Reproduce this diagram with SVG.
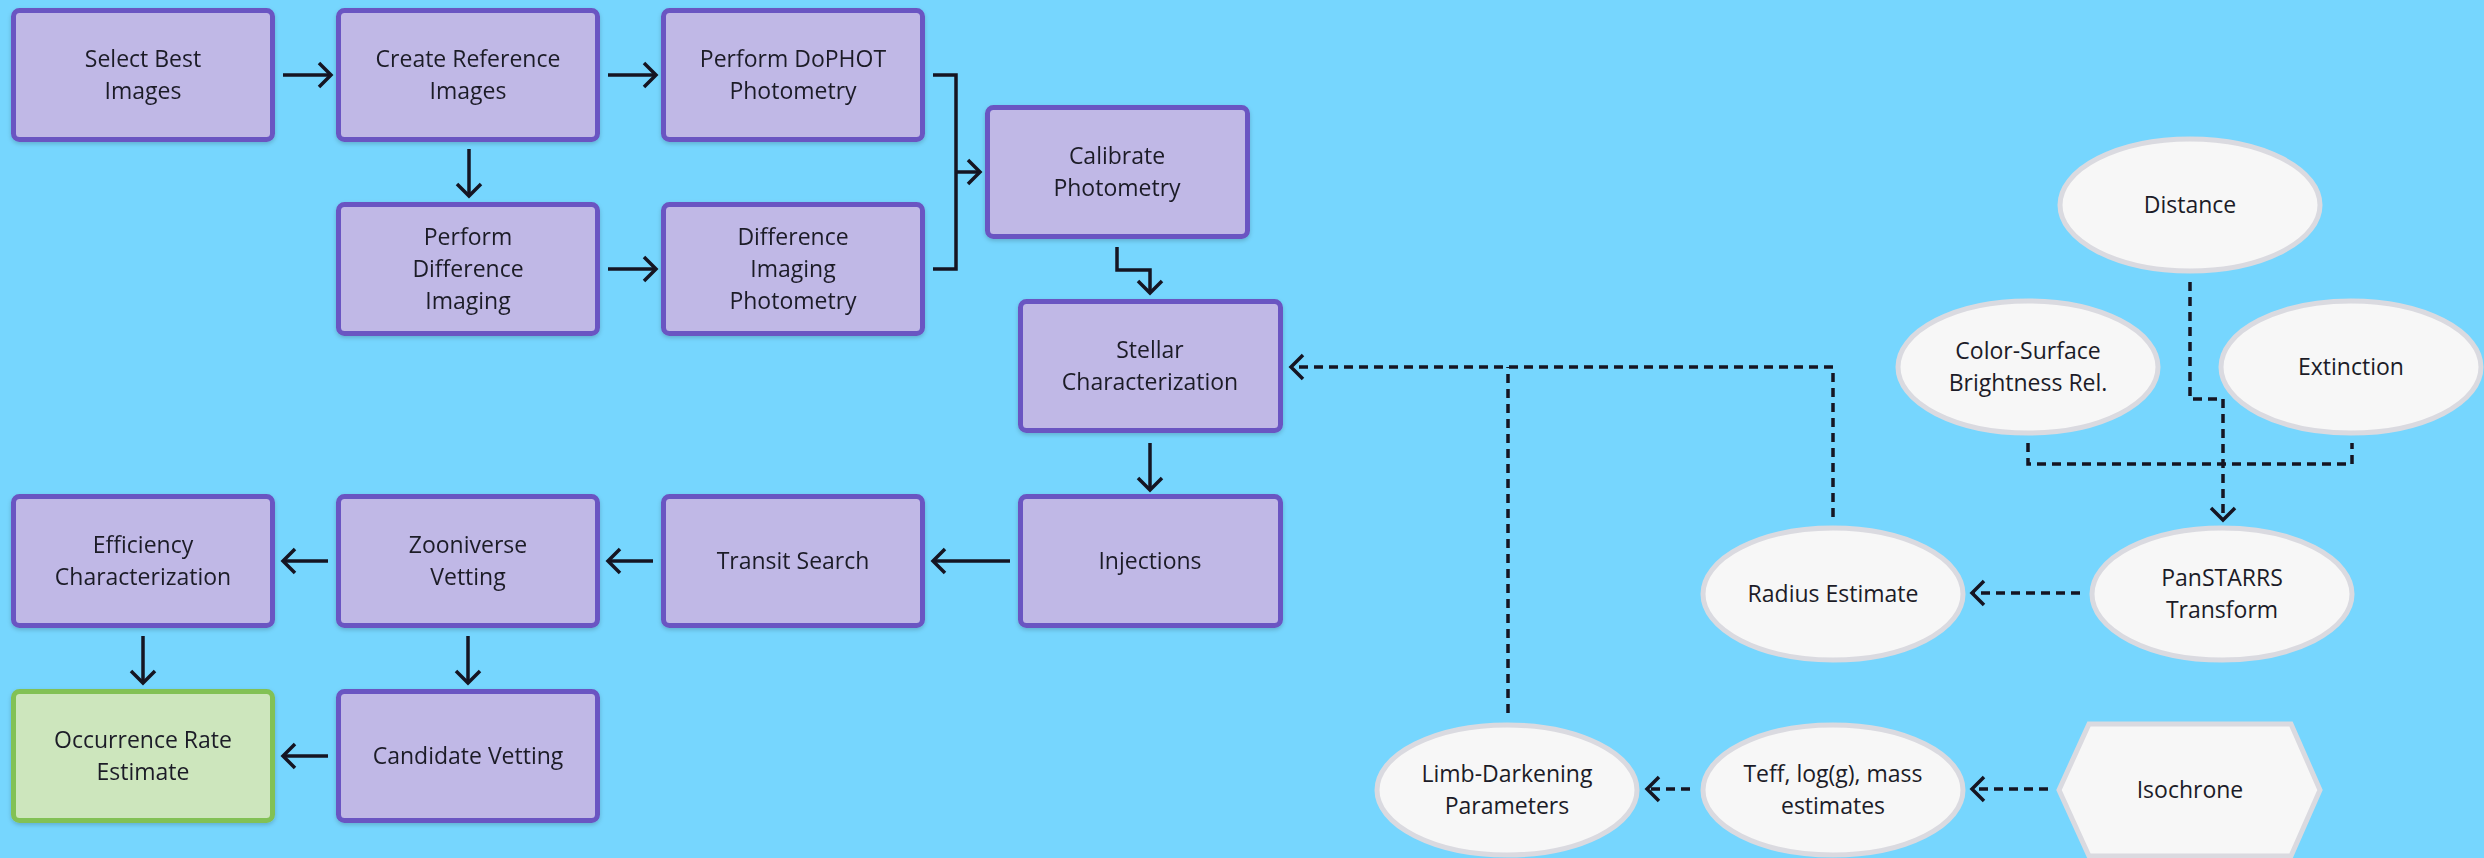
<svg xmlns="http://www.w3.org/2000/svg" width="2484" height="858" viewBox="0 0 2484 858">
<style>
.box{fill:#c0b8e6;stroke:#6b54c2;stroke-width:5}
.fin{fill:#cde6bd;stroke:#82c155;stroke-width:5}
.ell{fill:#f7f7f7;stroke:#dadae0;stroke-width:5}
text{font-family:"Open Sans","Liberation Sans",sans-serif;font-size:23px;fill:#1c1c28;text-anchor:middle}
.c{fill:none;stroke:#151522;stroke-width:3.5}
.d{stroke-dasharray:9 6}
</style>
<defs>
<filter id="sh" x="-10%" y="-10%" width="120%" height="130%"><feDropShadow dx="0" dy="2" stdDeviation="2" flood-color="#000" flood-opacity="0.18"/></filter>
<marker id="ah" markerUnits="userSpaceOnUse" markerWidth="20" markerHeight="30" viewBox="0 0 20 30" refX="16" refY="15" orient="auto"><path d="M4,3 L16,15 L4,27" fill="none" stroke="#151522" stroke-width="3.5" stroke-dasharray="none"/></marker>
</defs>
<rect width="2484" height="858" fill="#76d6fe"/>
<g id="connectors">
<path class="c" d="M283,75 H331" marker-end="url(#ah)"/>
<path class="c" d="M608,75 H656" marker-end="url(#ah)"/>
<path class="c" d="M469,149 V196" marker-end="url(#ah)"/>
<path class="c" d="M608,269 H656" marker-end="url(#ah)"/>
<path class="c" d="M933,75 H956 V269 H933"/>
<path class="c" d="M956,172 H980" marker-end="url(#ah)"/>
<path class="c" d="M1117,247 V270 H1150 V293" marker-end="url(#ah)"/>
<path class="c" d="M1150,443 V490" marker-end="url(#ah)"/>
<path class="c" d="M1010,561 H933" marker-end="url(#ah)"/>
<path class="c" d="M653,561 H608" marker-end="url(#ah)"/>
<path class="c" d="M328,561 H283" marker-end="url(#ah)"/>
<path class="c" d="M143,636 V683" marker-end="url(#ah)"/>
<path class="c" d="M468,636 V683" marker-end="url(#ah)"/>
<path class="c" d="M328,756 H283" marker-end="url(#ah)"/>
<path class="c d" d="M2190,282 V399 H2223 V520" marker-end="url(#ah)"/>
<path class="c d" d="M2028,443 V464 H2352 V443"/>
<path class="c d" d="M2080,593 H1972" marker-end="url(#ah)"/>
<path class="c d" d="M1833,517 V367 H1291" marker-end="url(#ah)"/>
<path class="c d" d="M1508,713 V367"/>
<path class="c d" d="M1690,789 H1647" marker-end="url(#ah)"/>
<path class="c d" d="M2048,789 H1972" marker-end="url(#ah)"/>
</g>
<g id="n-select" filter="url(#sh)"><rect class="box" x="13.5" y="10.5" width="259" height="129" rx="6"/><text x="143" y="67">Select Best</text><text x="143" y="99">Images</text></g>
<g id="n-createref" filter="url(#sh)"><rect class="box" x="338.5" y="10.5" width="259" height="129" rx="6"/><text x="468" y="67">Create Reference</text><text x="468" y="99">Images</text></g>
<g id="n-dophot" filter="url(#sh)"><rect class="box" x="663.5" y="10.5" width="259" height="129" rx="6"/><text x="793" y="67">Perform DoPHOT</text><text x="793" y="99">Photometry</text></g>
<g id="n-perfdiff" filter="url(#sh)"><rect class="box" x="338.5" y="204.5" width="259" height="129" rx="6"/><text x="468" y="245">Perform</text><text x="468" y="277">Difference</text><text x="468" y="309">Imaging</text></g>
<g id="n-diffphot" filter="url(#sh)"><rect class="box" x="663.5" y="204.5" width="259" height="129" rx="6"/><text x="793" y="245">Difference</text><text x="793" y="277">Imaging</text><text x="793" y="309">Photometry</text></g>
<g id="n-calibrate" filter="url(#sh)"><rect class="box" x="987.5" y="107.5" width="260" height="129" rx="6"/><text x="1117" y="164">Calibrate</text><text x="1117" y="196">Photometry</text></g>
<g id="n-stellar" filter="url(#sh)"><rect class="box" x="1020.5" y="301.5" width="260" height="129" rx="6"/><text x="1150" y="358">Stellar</text><text x="1150" y="390">Characterization</text></g>
<g id="n-injections" filter="url(#sh)"><rect class="box" x="1020.5" y="496.5" width="260" height="129" rx="6"/><text x="1150" y="569">Injections</text></g>
<g id="n-transit" filter="url(#sh)"><rect class="box" x="663.5" y="496.5" width="259" height="129" rx="6"/><text x="793" y="569">Transit Search</text></g>
<g id="n-zooniverse" filter="url(#sh)"><rect class="box" x="338.5" y="496.5" width="259" height="129" rx="6"/><text x="468" y="553">Zooniverse</text><text x="468" y="585">Vetting</text></g>
<g id="n-efficiency" filter="url(#sh)"><rect class="box" x="13.5" y="496.5" width="259" height="129" rx="6"/><text x="143" y="553">Efficiency</text><text x="143" y="585">Characterization</text></g>
<g id="n-occurrence" filter="url(#sh)"><rect class="fin" x="13.5" y="691.5" width="259" height="129" rx="6"/><text x="143" y="748">Occurrence Rate</text><text x="143" y="780">Estimate</text></g>
<g id="n-candidate" filter="url(#sh)"><rect class="box" x="338.5" y="691.5" width="259" height="129" rx="6"/><text x="468" y="764">Candidate Vetting</text></g>
<g id="n-distance"><ellipse class="ell" cx="2190" cy="205" rx="130" ry="66"/><text x="2190" y="213">Distance</text></g>
<g id="n-colorsurface"><ellipse class="ell" cx="2028" cy="367" rx="130" ry="66"/><text x="2028" y="359">Color-Surface</text><text x="2028" y="391">Brightness Rel.</text></g>
<g id="n-extinction"><ellipse class="ell" cx="2351" cy="367" rx="130" ry="66"/><text x="2351" y="375">Extinction</text></g>
<g id="n-panstarrs"><ellipse class="ell" cx="2222" cy="594" rx="130" ry="66"/><text x="2222" y="586">PanSTARRS</text><text x="2222" y="618">Transform</text></g>
<g id="n-radius"><ellipse class="ell" cx="1833" cy="594" rx="130" ry="66"/><text x="1833" y="602">Radius Estimate</text></g>
<g id="n-limb"><ellipse class="ell" cx="1507" cy="790" rx="130" ry="65"/><text x="1507" y="782">Limb-Darkening</text><text x="1507" y="814">Parameters</text></g>
<g id="n-teff"><ellipse class="ell" cx="1833" cy="790" rx="130" ry="65"/><text x="1833" y="782">Teff, log(g), mass</text><text x="1833" y="814">estimates</text></g>
<g id="n-isochrone"><polygon class="ell" points="2089,724 2291,724 2320,790 2291,856 2089,856 2059,790"/><text x="2190" y="798">Isochrone</text></g>
</svg>
